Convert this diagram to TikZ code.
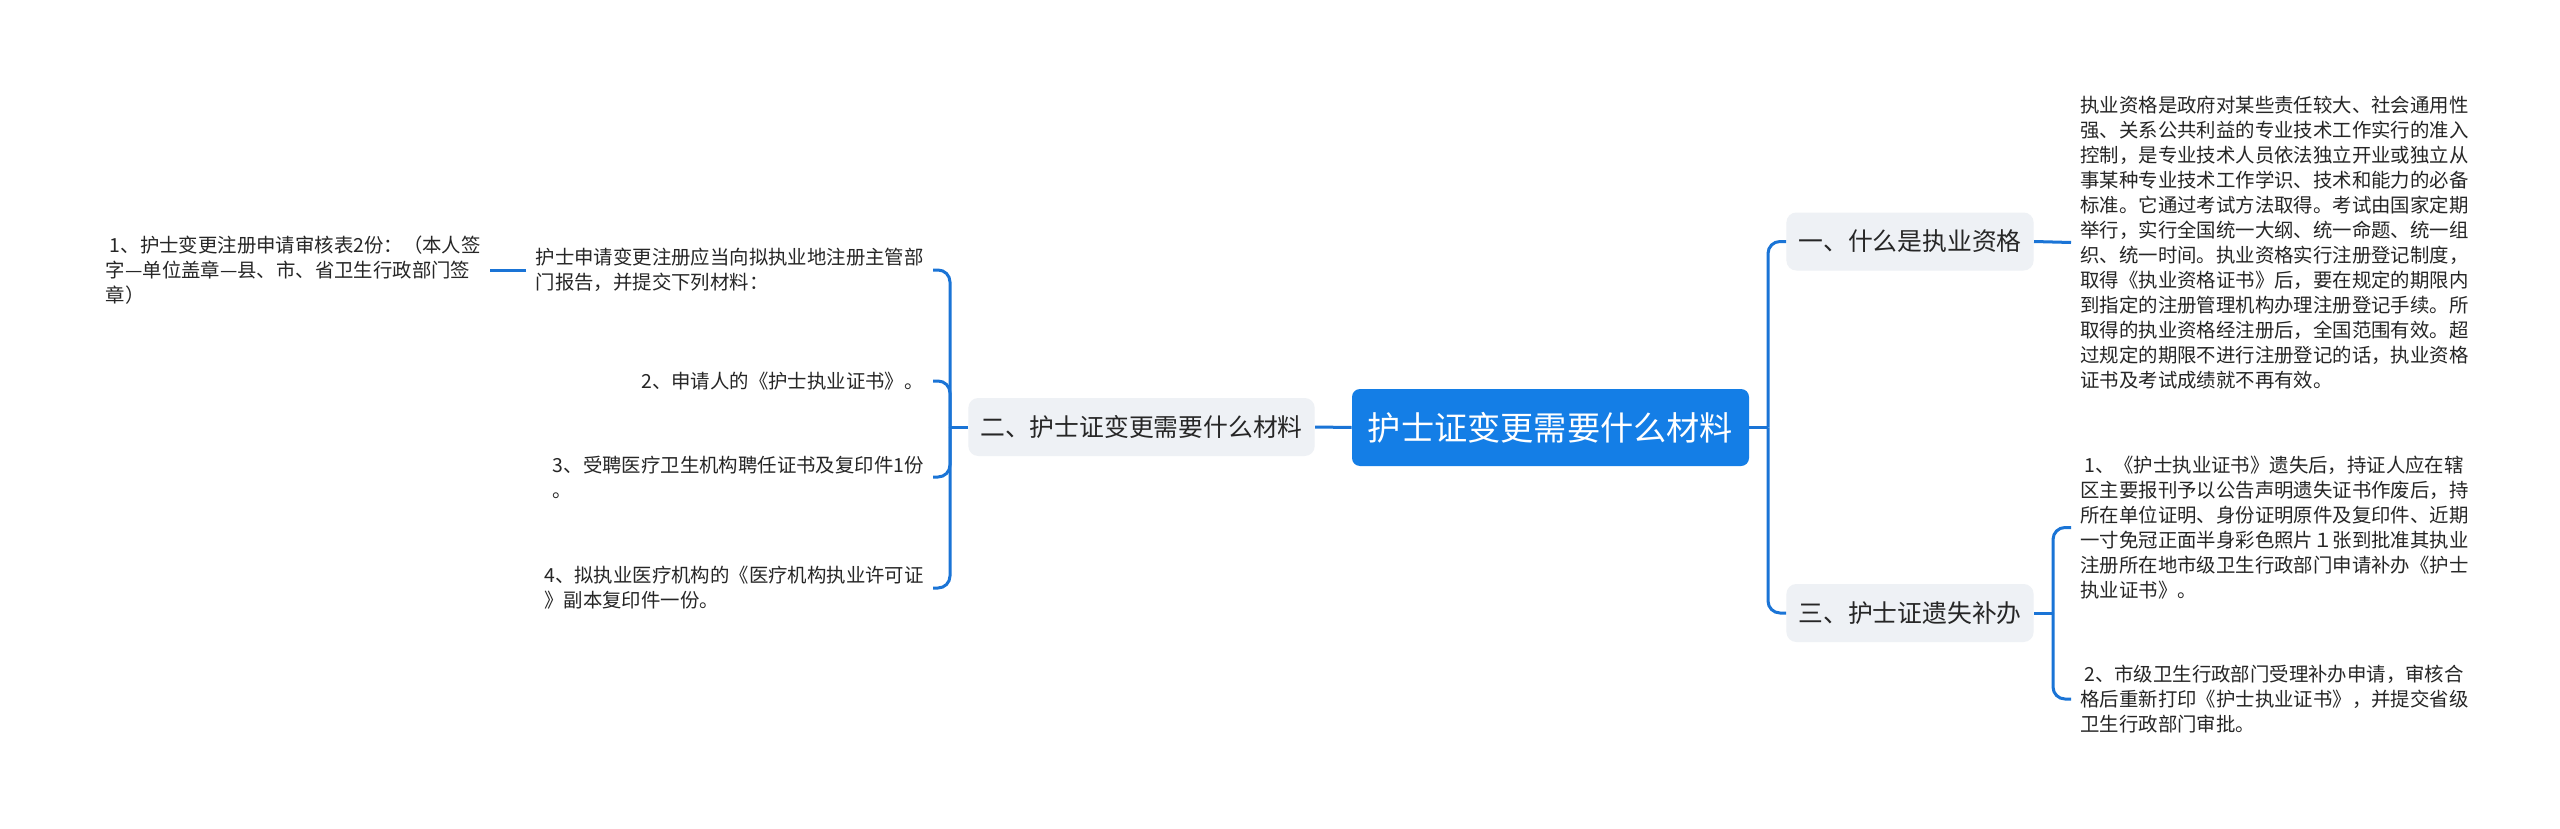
\documentclass[tikz,border=0pt]{standalone}
\usepackage{fontspec}
\setmainfont{Noto Sans CJK SC}
\definecolor{rootblue}{HTML}{147EE6}
\definecolor{linkblue}{HTML}{1A74D6}
\definecolor{branchgray}{HTML}{EEF1F5}
\definecolor{txt}{HTML}{262626}
\begin{document}
\begin{tikzpicture}[x=0.5pt,y=-0.5pt,
  rootbox/.style={fill=rootblue, rounded corners=4pt, text=white, font=\fontsize{16.6pt}{20pt}\selectfont, minimum width=198.5pt, minimum height=38.5pt, inner sep=0pt},
  branchbox/.style={fill=branchgray, rounded corners=5pt, text=txt, font=\fontsize{12.4pt}{15pt}\selectfont, minimum height=29pt, inner xsep=6pt, inner ysep=0pt},
  leaf/.style={text=txt, font=\fontsize{9.7pt}{12.5pt}\selectfont, align=left, inner xsep=4.5pt, inner ysep=2pt},
  link/.style={draw=linkblue, line width=1.5pt},
  elbow/.style={link, rounded corners=6pt}]
\path[use as bounding box] (0,0) rectangle (2560,829);
\fill[white] (0,0) rectangle (2560,829);

% root and branches
\node[rootbox] (root) at (1550.5,427.5) {护士证变更需要什么材料};
\node[branchbox] (b2) at (1141.5,427) {二、护士证变更需要什么材料};
\node[branchbox] (b1) at (1910,241.5) {一、什么是执业资格};
\node[branchbox] (b3) at (1910,613) {三、护士证遗失补办};

% left leaves
\node[leaf, anchor=east] (la) at (933,270) {护士申请变更注册应当向拟执业地注册主管部\\门报告，并提交下列材料：};
\node[leaf, anchor=east] (lb) at (933,381) {2、申请人的《护士执业证书》。};
\node[leaf, anchor=east] (lc) at (933,477) {3、受聘医疗卫生机构聘任证书及复印件1份\\。};
\node[leaf, anchor=east] (ld) at (933,588) {4、拟执业医疗机构的《医疗机构执业许可证\\》副本复印件一份。};
\node[leaf, anchor=east] (lchild) at (490,270) {\hspace{2pt}1、护士变更注册申请审核表2份：（本人签\\字—单位盖章—县、市、省卫生行政部门签\\章）};

% right leaves
\node[leaf, anchor=west] (rp) at (2071,242.5) {执业资格是政府对某些责任较大、社会通用性\\强、关系公共利益的专业技术工作实行的准入\\控制，是专业技术人员依法独立开业或独立从\\事某种专业技术工作学识、技术和能力的必备\\标准。它通过考试方法取得。考试由国家定期\\举行，实行全国统一大纲、统一命题、统一组\\织、统一时间。执业资格实行注册登记制度，\\取得《执业资格证书》后，要在规定的期限内\\到指定的注册管理机构办理注册登记手续。所\\取得的执业资格经注册后，全国范围有效。超\\过规定的期限不进行注册登记的话，执业资格\\证书及考试成绩就不再有效。};
\node[leaf, anchor=west] (r1) at (2071,527.5) {\hspace{2pt}1、《护士执业证书》遗失后，持证人应在辖\\区主要报刊予以公告声明遗失证书作废后，持\\所在单位证明、身份证明原件及复印件、近期\\一寸免冠正面半身彩色照片１张到批准其执业\\注册所在地市级卫生行政部门申请补办《护士\\执业证书》。};
\node[leaf, anchor=west] (r2) at (2071,699) {\hspace{2pt}2、市级卫生行政部门受理补办申请，审核合\\格后重新打印《护士执业证书》，并提交省级\\卫生行政部门审批。};

% junctions
\coordinate (jl) at (950,427);
\coordinate (jr) at (1768,427.5);
\coordinate (j3) at (2053,613);

% connectors
\draw[link] (root.west) -- (b2.east);
\draw[link] (b2.west) -- (jl);
\draw[elbow] (jl) |- (la.east);
\draw[elbow] (jl) |- (lb.east);
\draw[elbow] (jl) |- (lc.east);
\draw[elbow] (jl) |- (ld.east);
\draw[link] (la.west) -- (lchild.east);

\draw[link] (root.east) -- (jr);
\draw[elbow] (jr) |- (b1.west);
\draw[elbow] (jr) |- (b3.west);
\draw[link] (b1.east) -- (rp.west);
\draw[link] (b3.east) -- (j3);
\draw[elbow] (j3) |- (r1.west);
\draw[elbow] (j3) |- (r2.west);
\end{tikzpicture}
\end{document}
